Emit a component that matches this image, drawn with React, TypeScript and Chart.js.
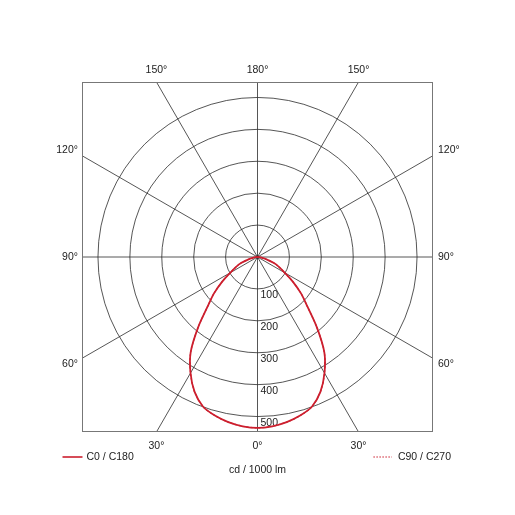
import { useEffect, useRef } from 'react';
import { Chart, registerables } from 'chart.js';

Chart.register(...registerables);

// gamma angles (deg) and luminous intensity (cd / 1000 lm), symmetric curve
const gammaAngles = [0, 5, 10, 15, 20, 25, 30, 35, 40, 45, 50, 55, 60, 65, 70, 75, 80, 85, 90];
const c0c180Values = [537, 534, 527, 516, 500, 467, 420, 365, 290, 222, 178, 135, 98, 75, 55, 30, 15, 6, 0];
const c90c270Values = [537, 534, 527, 516, 500, 467, 420, 365, 290, 222, 178, 135, 98, 75, 55, 30, 15, 6, 0];

// grid
const ringValues = [100, 200, 300, 400, 500];
const spokeAngles = [0, 30, 60, 90, 120, 150, 180, 210, 240, 270, 300, 330];
const labelAngles = [0, 30, 60, 90, 120, 150, 180];
const axisRange = 550;

const seriesNames = ['C0 / C180', 'C90 / C270'];
const unitLabel = 'cd / 1000 lm';

const RED = '#cc1f2e';
const FONT = '10.5px "Liberation Sans", Arial, sans-serif';

const rad = (d: number) => (d * Math.PI) / 180;

// left half (C180) from 90° down to 0°, then right half (C0) back up to 90°
function toPoints(values: number[]) {
  const pts: { x: number; y: number }[] = [];
  for (let i = gammaAngles.length - 1; i >= 0; i--) {
    const g = rad(gammaAngles[i]);
    pts.push({ x: -values[i] * Math.sin(g), y: -values[i] * Math.cos(g) });
  }
  for (let i = 1; i < gammaAngles.length; i++) {
    const g = rad(gammaAngles[i]);
    pts.push({ x: values[i] * Math.sin(g), y: -values[i] * Math.cos(g) });
  }
  return pts;
}

const polarGrid = {
  id: 'polarGrid',
  beforeDatasetsDraw(chart: any) {
    const { ctx, chartArea: a, scales } = chart;
    const cx = scales.x.getPixelForValue(0);
    const cy = scales.y.getPixelForValue(0);
    const unit = (scales.x.getPixelForValue(100) - cx) / 100;

    ctx.save();
    ctx.beginPath();
    ctx.rect(a.left, a.top, a.width, a.height);
    ctx.clip();
    ctx.strokeStyle = '#2b2b2b';
    ctx.lineWidth = 0.8;
    ringValues.forEach((v) => {
      ctx.beginPath();
      ctx.arc(cx, cy, v * unit, 0, Math.PI * 2);
      ctx.stroke();
    });
    spokeAngles.forEach((g) => {
      ctx.beginPath();
      ctx.moveTo(cx, cy);
      ctx.lineTo(cx + Math.sin(rad(g)) * 1000, cy + Math.cos(rad(g)) * 1000);
      ctx.stroke();
    });
    ctx.fillStyle = '#111';
    ctx.beginPath();
    ctx.arc(cx, cy, 1.6, 0, Math.PI * 2);
    ctx.fill();
    ctx.restore();

    // frame
    ctx.save();
    ctx.strokeStyle = '#777';
    ctx.lineWidth = 1;
    ctx.strokeRect(a.left + 0.5, a.top + 0.5, a.width - 1, a.height - 1);

    ctx.font = FONT;
    ctx.fillStyle = '#222';

    // ring values along the 0° spoke
    ctx.textAlign = 'left';
    ctx.textBaseline = 'top';
    ringValues.forEach((v) => {
      ctx.fillText(String(v), cx + 3, cy + v * unit + 1);
    });

    // angle labels around the frame
    const halfW = a.width / 2;
    const halfH = a.height / 2;
    labelAngles.forEach((g) => {
      [-1, 1].forEach((side) => {
        if ((g === 0 || g === 180) && side === 1) return;
        const dx = side * Math.sin(rad(g));
        const dy = Math.cos(rad(g));
        const tx = Math.abs(dx) > 1e-6 ? halfW / Math.abs(dx) : Infinity;
        const ty = Math.abs(dy) > 1e-6 ? halfH / Math.abs(dy) : Infinity;
        const text = g + '°';
        if (ty <= tx) {
          ctx.textAlign = 'center';
          ctx.textBaseline = 'middle';
          ctx.fillText(text, cx + dx * ty, dy < 0 ? a.top - 12 : a.bottom + 14);
        } else {
          const off = Math.abs(dy) > 1e-6 ? Math.sign(dy) * 5.5 : 0;
          ctx.textAlign = side < 0 ? 'right' : 'left';
          ctx.textBaseline = 'middle';
          ctx.fillText(text, side < 0 ? a.left - 4 : a.right + 5, cy + dy * tx + off);
        }
      });
    });
    ctx.restore();
  },
  afterDraw(chart: any) {
    const { ctx, chartArea: a, scales } = chart;
    const cx = scales.x.getPixelForValue(0);
    const ly = a.bottom + 25;
    ctx.save();
    ctx.font = FONT;
    ctx.fillStyle = '#222';
    ctx.textBaseline = 'middle';

    // solid legend item
    ctx.strokeStyle = RED;
    ctx.lineWidth = 1.6;
    ctx.beginPath();
    ctx.moveTo(a.left - 19.5, ly);
    ctx.lineTo(a.left + 0.5, ly);
    ctx.stroke();
    ctx.textAlign = 'left';
    ctx.fillText(seriesNames[0], a.left + 4.5, ly);

    // dotted legend item
    const w2 = ctx.measureText(seriesNames[1]).width;
    const tx2 = a.right + 18 - w2;
    ctx.setLineDash([1.5, 1.5]);
    ctx.lineWidth = 1.2;
    ctx.beginPath();
    ctx.moveTo(tx2 - 24.5, ly);
    ctx.lineTo(tx2 - 6, ly);
    ctx.stroke();
    ctx.setLineDash([]);
    ctx.fillText(seriesNames[1], tx2, ly);

    ctx.textAlign = 'center';
    ctx.fillText(unitLabel, cx, a.bottom + 38);
    ctx.restore();
  },
};

export default function App() {
  const canvasRef = useRef<HTMLCanvasElement>(null);
  const chartRef = useRef<Chart | null>(null);

  useEffect(() => {
    if (!canvasRef.current) return;
    chartRef.current?.destroy();
    chartRef.current = new Chart(canvasRef.current, {
      type: 'scatter',
      data: {
        datasets: [
          {
            label: seriesNames[1],
            data: toPoints(c90c270Values),
            showLine: true,
            borderColor: RED,
            borderWidth: 1.2,
            borderDash: [2, 2],
            pointRadius: 0,
            tension: 0.3,
          },
          {
            label: seriesNames[0],
            data: toPoints(c0c180Values),
            showLine: true,
            borderColor: RED,
            borderWidth: 1.8,
            pointRadius: 0,
            tension: 0.3,
          },
        ],
      },
      options: {
        responsive: false,
        animation: false,
        layout: { padding: { left: 82, right: 82, top: 82, bottom: 83 } },
        scales: {
          x: { type: 'linear', min: -axisRange, max: axisRange, display: false },
          y: { type: 'linear', min: -axisRange, max: axisRange, display: false },
        },
        plugins: {
          legend: { display: false },
          tooltip: { enabled: false },
        },
        events: [],
      },
      plugins: [polarGrid],
    });
    return () => {
      chartRef.current?.destroy();
      chartRef.current = null;
    };
  }, []);

  return (
    <div style={{ position: 'absolute', left: 0, top: 0, width: 515, height: 515, background: '#fff' }}>
      <canvas ref={canvasRef} width={515} height={515}></canvas>
    </div>
  );
}
